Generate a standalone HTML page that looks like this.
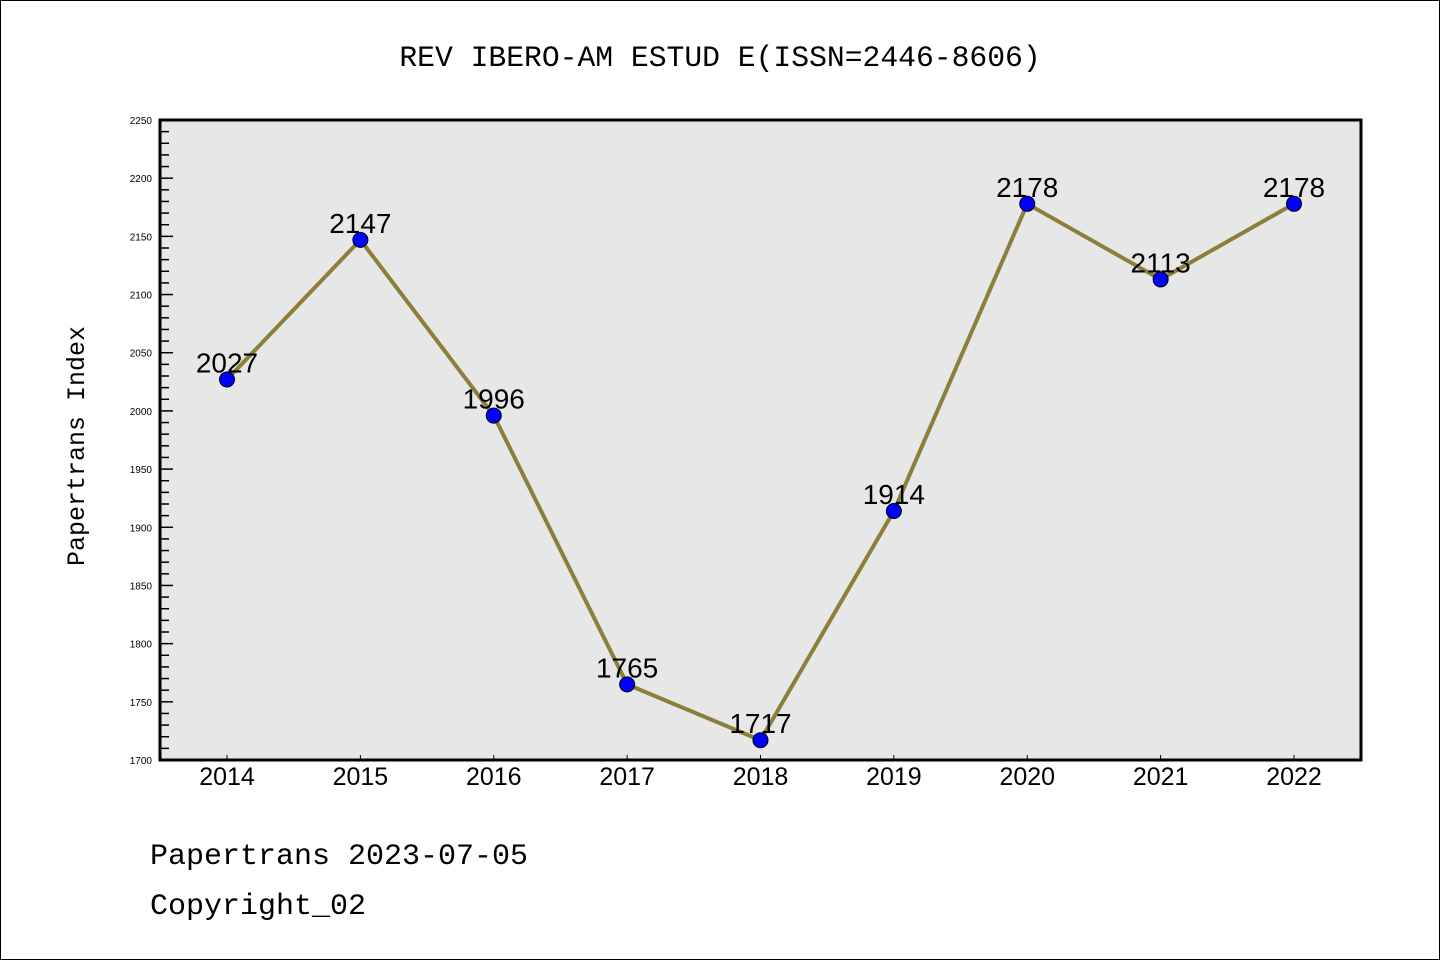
<!DOCTYPE html>
<html><head><meta charset="utf-8"><style>
body{margin:0;background:#fff}
svg{display:block}
text{font-family:"Liberation Sans",sans-serif}
.mono{font-family:"Liberation Mono",monospace}
</style></head><body>
<svg id="c" width="1440" height="960" xmlns="http://www.w3.org/2000/svg">
<rect x="0.5" y="0.5" width="1439" height="959" fill="#fff" stroke="#000"/>
<text class="mono" x="720" y="66" font-size="29.7" text-anchor="middle">REV IBERO-AM ESTUD E(ISSN=2446-8606)</text>
<rect x="160" y="120" width="1201" height="640" fill="#e7e7e7"/>
<g id="yt"></g><g id="xt"></g>
<rect x="160" y="120" width="1201" height="640" fill="none" stroke="#000" stroke-width="3"/>
<g id="ser"></g>
<text class="mono" transform="translate(84,446) rotate(-90)" font-size="25" text-anchor="middle">Papertrans Index</text>
<text class="mono" x="150" y="864" font-size="30">Papertrans 2023-07-05</text>
<text class="mono" x="150" y="914" font-size="30">Copyright_02</text>
</svg>
<script>
const years=[2014,2015,2016,2017,2018,2019,2020,2021,2022];
const values=[2027,2147,1996,1765,1717,1914,2178,2113,2178];
const yTicks=[1700,1750,1800,1850,1900,1950,2000,2050,2100,2150,2200,2250];
const NS="http://www.w3.org/2000/svg";
const X=i=>227+i*(1294-227)/8;
const Y=v=>760-(v-1700)*640/550;
function mk(t,a,p){const e=document.createElementNS(NS,t);for(const k in a)e.setAttribute(k,a[k]);p.appendChild(e);return e;}
const yt=document.getElementById('yt'),xt=document.getElementById('xt'),ser=document.getElementById('ser');
for(let v=1700;v<=2250;v+=10){const maj=v%50===0;const l=mk('line',{x1:160,x2:160+(maj?13:9),y1:Y(v),y2:Y(v),stroke:'#000','stroke-width':1.5},yt);

}
yTicks.forEach(v=>{const t=mk('text',{x:152,y:Y(v)+4,'font-size':10,'text-anchor':'end'},yt);t.textContent=v;

});
years.forEach((y,i)=>{const l=mk('line',{x1:X(i),x2:X(i),y1:760,y2:755,stroke:'#000','stroke-width':1},xt);


const t=mk('text',{x:X(i),y:785,'font-size':25,'text-anchor':'middle'},xt);t.textContent=y;

});
const pl=mk('polyline',{points:values.map((v,i)=>X(i)+','+Y(v)).join(' '),fill:'none',stroke:'#8c7f3a','stroke-width':4},ser);


values.forEach((v,i)=>{const c=mk('circle',{cx:X(i),cy:Y(v),r:7.5,fill:'#0000ff',stroke:'#000','stroke-width':1},ser);


const t=mk('text',{x:X(i),y:Y(v)-7,'font-size':28,'text-anchor':'middle'},ser);t.textContent=v;

});
</script>
</body></html>
